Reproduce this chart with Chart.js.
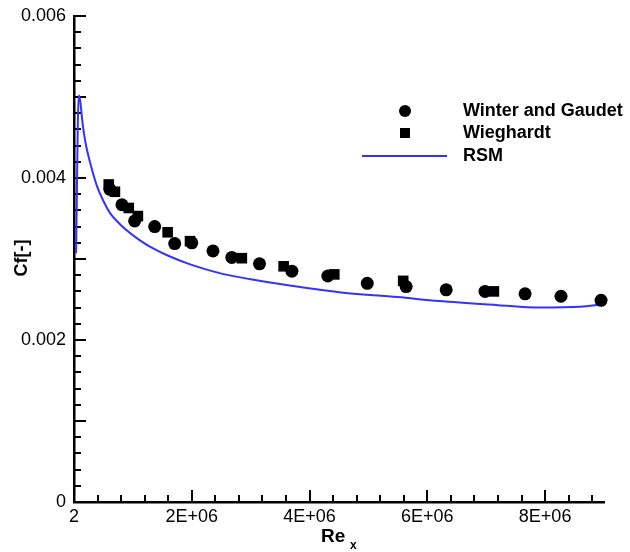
<!DOCTYPE html>
<html>
<head>
<meta charset="utf-8">
<script src="https://cdn.jsdelivr.net/npm/chart.js@4"></script>
<style>
  html, body { margin: 0; padding: 0; background: #fff; }
  #wrap { width: 630px; height: 552px; }
</style>
</head>
<body>
<div id="wrap"><canvas id="cfChart" width="630" height="552"></canvas></div>
<script>
// Winter and Gaudet (circles)
const winterRe = [6.10e5, 8.14e5, 1.03e6, 1.37e6, 1.71e6, 2.00e6, 2.36e6, 2.68e6, 3.15e6, 3.70e6, 4.31e6, 4.98e6, 5.64e6, 6.32e6, 6.98e6, 7.66e6, 8.27e6, 8.95e6];
const winterCf = [0.00386, 0.00367, 0.00347, 0.00340, 0.00319, 0.00320, 0.00310, 0.00302, 0.00294, 0.00285, 0.00279, 0.00270, 0.00266, 0.00262, 0.00260, 0.00257, 0.00254, 0.00249];
// Wieghardt (squares)
const wieghardtRe = [5.9e5, 6.95e5, 9.3e5, 1.085e6, 1.59e6, 1.97e6, 2.85e6, 3.56e6, 4.42e6, 5.59e6, 7.13e6];
const wieghardtCf = [0.00392, 0.00383, 0.00363, 0.00353, 0.00333, 0.00322, 0.00301, 0.00291, 0.00281, 0.00273, 0.00260];
// RSM line
const rsmRe = [3.5e4, 8e4, 1.0e5, 1.5e5, 2.0e5, 2.7e5, 3.9e5, 5.1e5, 6.1e5, 7.8e5, 1.12e6, 1.32e6, 1.6e6, 1.95e6, 2.3e6, 2.56e6, 3.0e6, 3.5e6, 4.5e6, 5.5e6, 6.2e6, 7.2e6, 7.9e6, 8.6e6, 8.97e6];
const rsmCf = [0.00307, 0.00502, 0.00498, 0.00465, 0.00442, 0.00420, 0.00390, 0.00370, 0.00357, 0.00343, 0.00323, 0.00314, 0.00304, 0.00294, 0.00286, 0.00281, 0.00275, 0.00269, 0.00259, 0.00253, 0.00248, 0.00243, 0.00240, 0.00241, 0.00244];

// tick labels
const xTickValues = [2, 2e6, 4e6, 6e6, 8e6];
const xTickLabels = ['2', '2E+06', '4E+06', '6E+06', '8E+06'];
const yTickValues = [0, 0.002, 0.004, 0.006];
const yTickLabels = ['0', '0.002', '0.004', '0.006'];
const xMinorStep = 4e5, xMajorStep = 2e6;
const yMinorStep = 0.0002, yMajorStep = 0.001;

const FONT = '"Liberation Sans", Arial, Helvetica, sans-serif';

function toPoints(xs, ys) {
    return xs.map((x, i) => ({ x: x, y: ys[i] }));
}

function buildXTicks() {
    const t = [{ value: 2 }];
    for (let i = 1; i * xMinorStep <= 9e6 + 1; i++) t.push({ value: i * xMinorStep });
    return t;
}
function buildYTicks() {
    const t = [];
    for (let i = 0; i <= 30; i++) t.push({ value: Math.round(i * yMinorStep * 1e4) / 1e4 });
    return t;
}
function isMultiple(v, step) {
    const r = v / step;
    return Math.abs(r - Math.round(r)) < 1e-6;
}

// inward ticks, titles and legend
const decoPlugin = {
    id: 'deco',
    beforeDatasetsDraw(chart) {
        const { ctx, chartArea, scales: { x, y } } = chart;
        ctx.save();
        ctx.strokeStyle = '#000';
        ctx.lineWidth = 2;
        ctx.beginPath();
        y.ticks.forEach(t => {
            if (t.value === 0) return;
            const py = Math.round(y.getPixelForValue(t.value));
            const len = isMultiple(t.value, yMajorStep) ? 12 : 7;
            ctx.moveTo(chartArea.left, py);
            ctx.lineTo(chartArea.left + len, py);
        });
        x.ticks.forEach(t => {
            if (t.value < 10) return;
            const px = Math.round(x.getPixelForValue(t.value));
            const len = isMultiple(t.value, xMajorStep) ? 12 : 7;
            ctx.moveTo(px, chartArea.bottom);
            ctx.lineTo(px, chartArea.bottom - len);
        });
        ctx.stroke();
        ctx.restore();
    },
    afterDraw(chart) {
        const { ctx } = chart;
        ctx.save();
        ctx.fillStyle = '#000';
        // y title
        ctx.save();
        ctx.translate(22, 258);
        ctx.rotate(-Math.PI / 2);
        ctx.font = 'bold 18px ' + FONT;
        ctx.textAlign = 'center';
        ctx.textBaseline = 'middle';
        ctx.fillText('Cf[-]', 0, 0);
        ctx.restore();
        // x title Re_x
        ctx.font = 'bold 19px ' + FONT;
        ctx.textAlign = 'left';
        ctx.textBaseline = 'alphabetic';
        ctx.fillText('Re', 321, 542);
        ctx.font = 'bold 12px ' + FONT;
        ctx.fillText('x', 350, 549);

        // legend
        const legendX = 405, textX = 463;
        const rows = [111, 133, 156];
        ctx.font = 'bold 18px ' + FONT;
        ctx.textBaseline = 'middle';
        ctx.beginPath();
        ctx.arc(legendX, rows[0], 6, 0, Math.PI * 2);
        ctx.fill();
        ctx.fillRect(legendX - 5, rows[1] - 5, 10, 10);
        ctx.strokeStyle = '#3333ff';
        ctx.lineWidth = 2;
        ctx.beginPath();
        ctx.moveTo(362, rows[2]);
        ctx.lineTo(447, rows[2]);
        ctx.stroke();
        ctx.fillText('Winter and Gaudet', textX, rows[0]);
        ctx.fillText('Wieghardt', textX, rows[1]);
        ctx.fillText('RSM', textX, rows[2]);
        ctx.restore();
    }
};

const ctx = document.getElementById('cfChart').getContext('2d');
new Chart(ctx, {
    type: 'scatter',
    data: {
        datasets: [
            {
                label: 'Winter and Gaudet',
                data: toPoints(winterRe, winterCf),
                pointStyle: 'circle',
                pointRadius: 6.5,
                backgroundColor: '#000',
                borderColor: '#000',
                borderWidth: 0,
                clip: false,
                order: 1
            },
            {
                label: 'Wieghardt',
                data: toPoints(wieghardtRe, wieghardtCf),
                pointStyle: 'rect',
                pointRadius: 7.5,
                backgroundColor: '#000',
                borderColor: '#000',
                borderWidth: 0,
                clip: false,
                order: 2
            },
            {
                label: 'RSM',
                type: 'line',
                data: toPoints(rsmRe, rsmCf),
                showLine: true,
                borderColor: '#3333ff',
                borderWidth: 2,
                pointRadius: 0,
                fill: false,
                cubicInterpolationMode: 'monotone',
                clip: false,
                order: 3
            }
        ]
    },
    options: {
        responsive: false,
        animation: false,
        events: [],
        layout: { padding: { left: 0, top: 16, right: 26, bottom: 0 } },
        plugins: { legend: { display: false }, tooltip: { enabled: false } },
        scales: {
            x: {
                type: 'linear',
                min: 2,
                max: 9e6,
                afterBuildTicks: s => { s.ticks = buildXTicks(); },
                afterFit: s => { s.height = 50; s.paddingLeft = 0; s.paddingRight = 0; },
                grid: { display: false, drawTicks: false },
                border: { display: true, color: '#000', width: 2.5 },
                ticks: {
                    autoSkip: false,
                    maxRotation: 0,
                    padding: 4,
                    color: '#000',
                    font: { family: FONT, size: 18 },
                    callback: v => {
                        const i = xTickValues.indexOf(v);
                        return i >= 0 ? xTickLabels[i] : '';
                    }
                }
            },
            y: {
                type: 'linear',
                min: 0,
                max: 0.006,
                afterBuildTicks: s => { s.ticks = buildYTicks(); },
                afterFit: s => { s.width = 74; s.paddingTop = 0; s.paddingBottom = 0; },
                grid: { display: false, drawTicks: false },
                border: { display: true, color: '#000', width: 2.5 },
                ticks: {
                    autoSkip: false,
                    padding: 8,
                    color: '#000',
                    font: { family: FONT, size: 18 },
                    callback: v => {
                        const i = yTickValues.findIndex(t => Math.abs(t - v) < 1e-9);
                        return i >= 0 ? yTickLabels[i] : '';
                    }
                }
            }
        }
    },
    plugins: [decoPlugin]
});
</script>
</body>
</html>
